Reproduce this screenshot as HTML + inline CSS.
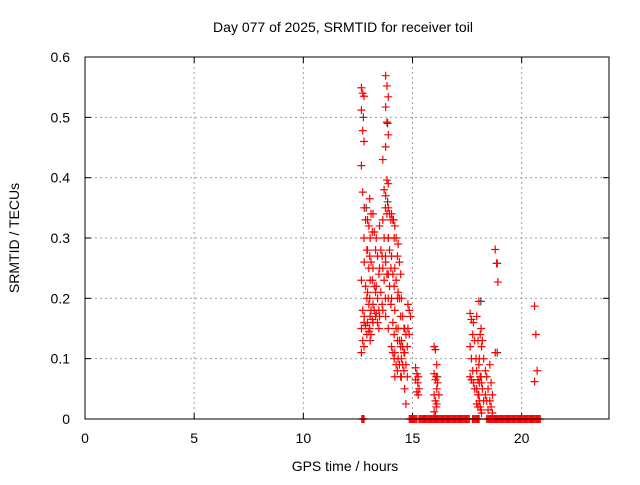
<!DOCTYPE html>
<html><head><meta charset="utf-8"><style>
body{margin:0;background:#fff;}
svg text{font-family:"Liberation Sans",sans-serif;font-size:14px;fill:#000;}
</style></head><body>
<svg id="chart" width="640" height="480" viewBox="0 0 640 480" xmlns="http://www.w3.org/2000/svg">
<rect width="640" height="480" fill="#fff"/>
<text x="343" y="32" text-anchor="middle">Day 077 of 2025, SRMTID for receiver toil</text>
<text x="345" y="471" text-anchor="middle">GPS time / hours</text>
<text transform="translate(19,238) rotate(-90)" text-anchor="middle">SRMTID / TECUs</text>
<g id="grid"></g><g id="ticks"></g><g id="marks"></g>
<rect x="85" y="57" width="524" height="362" fill="none" stroke="#000" stroke-width="1"/>
</svg>
<script>
const xTicks=[0,5,10,15,20];
const yTicks=[0,0.1,0.2,0.3,0.4,0.5,0.6];
const yTickLabels=["0","0.1","0.2","0.3","0.4","0.5","0.6"];
const colHours=[12.72,12.85,13.0,13.1,13.25,13.4,13.55,13.7,13.83,13.95,14.1,14.25,14.4,14.55,14.7,14.85,15.2,15.3,16.05,16.15,17.7,17.85,18.0,18.1,18.2,18.4,18.6,18.85,20.65];
const colValues=[
[0.549,0.54,0.535,0.512,0.478,0.46,0.42,0.376,0.3,0.23,0.18,0.16,0.15,0.13,0.12,0.11],
[0.35,0.33,0.28,0.26,0.22,0.2,0.17,0.155,0.14],
[0.33,0.32,0.3,0.28,0.25,0.23,0.21,0.19,0.17,0.16,0.145,0.13],
[0.365,0.34,0.31,0.27,0.26,0.23,0.2,0.18,0.165,0.15,0.14],
[0.34,0.31,0.28,0.25,0.22,0.21,0.19,0.18,0.17,0.16],
[0.3,0.27,0.24,0.22,0.2,0.18,0.175,0.16,0.15],
[0.32,0.28,0.27,0.25,0.21,0.19,0.17],
[0.43,0.38,0.35,0.33,0.3,0.27,0.25,0.23,0.2,0.18],
[0.569,0.552,0.534,0.517,0.492,0.471,0.451,0.396,0.39,0.37,0.34,0.3,0.26,0.24,0.2,0.17],
[0.35,0.34,0.33,0.3,0.28,0.25,0.24,0.22,0.19,0.15],
[0.34,0.33,0.3,0.27,0.24,0.22,0.2,0.16,0.14,0.12,0.11,0.1],
[0.32,0.3,0.27,0.25,0.23,0.2,0.18,0.15,0.13,0.11,0.09,0.08,0.07],
[0.29,0.26,0.24,0.21,0.2,0.17,0.15,0.13,0.12,0.1,0.09,0.07],
[0.2,0.17,0.15,0.13,0.12,0.11,0.1,0.09,0.08,0.07],
[0.15,0.14,0.12,0.11,0.09,0.07,0.05,0.025],
[0.19,0.18,0.17,0.15,0.14],
[0.085,0.075,0.07,0.065,0.045,0.04],
[0.06,0.05],
[0.12,0.115,0.09,0.075,0.065,0.05,0.04,0.03,0.025,0.012,0.005],
[0.07,0.06,0.04,0.02],
[0.175,0.165,0.14,0.12,0.1,0.08,0.07,0.065],
[0.16,0.13,0.1,0.06,0.05],
[0.17,0.13,0.1,0.08,0.065,0.06,0.05,0.04,0.03,0.025,0.02],
[0.195,0.14,0.12,0.09,0.07,0.06,0.04,0.02,0.01],
[0.15,0.13,0.1,0.07,0.05,0.03,0.015],
[0.08,0.07,0.05,0.04,0.03,0.015],
[0.09,0.06,0.04,0.03,0.02,0.01],
[0.281,0.258,0.227,0.11],
[0.187,0.14,0.08,0.062]
];
const zeroRanges=[[12.68,12.78],[14.85,15.2],[15.3,17.6],[17.75,18.05],[18.4,20.85]];
const grayHours=[12.72,12.85,13.83,13.83,14.1,18.1,18.85,18.85,16.1];
const grayValues=[0.5,0.35,0.49,0.36,0.33,0.195,0.258,0.11,0.07];

const X0=85,X1=609,Y0=419,Y1=57;
const xs=h=>X0+h*(X1-X0)/24;
const ys=v=>Y0-v*(Y0-Y1)/0.6;
const NS="http://www.w3.org/2000/svg";
function mk(tag,attrs,parent){const e=document.createElementNS(NS,tag);for(const k in attrs)e.setAttribute(k,attrs[k]);parent.appendChild(e);return e;}
const grid=document.getElementById('grid'),ticks=document.getElementById('ticks'),marks=document.getElementById('marks');
xTicks.forEach(t=>{
  const x=xs(t);
  if(t>0){const g=mk('line',{x1:x,y1:Y0,x2:x,y2:Y1,stroke:'#a0a0a0','stroke-dasharray':'2,3'},grid);
  
  }
  mk('line',{x1:x,y1:Y0,x2:x,y2:Y0-6,stroke:'#000'},ticks);
  mk('line',{x1:x,y1:Y1,x2:x,y2:Y1+6,stroke:'#000'},ticks);
  const tx=mk('text',{x:x,y:443,'text-anchor':'middle'},ticks);tx.textContent=t;
  
  
});
yTicks.forEach((t,i)=>{
  const y=ys(t);
  if(t>0&&t<0.6){const g=mk('line',{x1:X0,y1:y,x2:X1,y2:y,stroke:'#a0a0a0','stroke-dasharray':'2,3'},grid);
  
  }
  mk('line',{x1:X0,y1:y,x2:X0+6,y2:y,stroke:'#000'},ticks);
  mk('line',{x1:X1,y1:y,x2:X1-6,y2:y,stroke:'#000'},ticks);
  const tx=mk('text',{x:70,y:y+5,'text-anchor':'end'},ticks);tx.textContent=yTickLabels[i];
  
  
});
function cross(h,v,col,name){
  const x=xs(h),y=ys(v);
  const p=mk('path',{d:`M${x-4},${y}H${x+4}M${x},${y-4}V${y+4}`,stroke:col,'stroke-width':1.2,fill:'none'},marks);
  
  
}
grayHours.forEach((h,i)=>cross(h+0.03,grayValues[i],'#444','gray-point'));
colHours.forEach((h,i)=>colValues[i].forEach((v,j)=>cross(h+((j%3)-1)*0.06,v,'#ff0000','srmtid-point')));
zeroRanges.forEach(r=>{for(let h=r[0];h<=r[1]+1e-9;h+=0.05)cross(h,0,'#ff0000','zero-point');});
</script>
</body></html>
